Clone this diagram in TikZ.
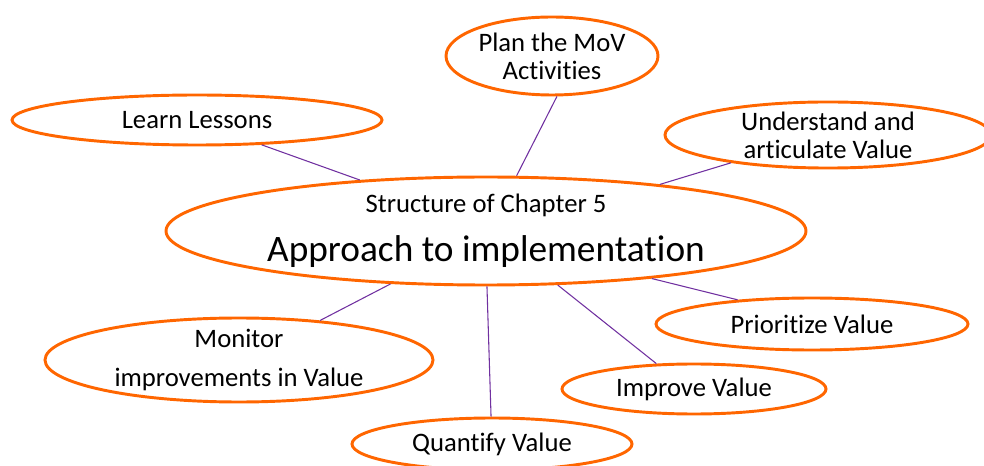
\documentclass[tikz,border=0pt]{standalone}
\usepackage{fontspec}
\setmainfont{Carlito}[Ligatures=NoCommon]
\usetikzlibrary{shapes.geometric}
\definecolor{mapOrange}{RGB}{255,102,0}
\definecolor{mapPurple}{RGB}{112,48,160}

\begin{document}
\begin{tikzpicture}[x=0.75pt,y=0.75pt,yscale=-1,xscale=1,
  topic/.style={ellipse, draw=mapOrange, line width=2.2pt, fill=white, inner sep=0pt, align=center, font=\fontsize{20}{21}\selectfont},
  link/.style={draw=mapPurple, line width=0.8pt}]
%set diagram to the size of the slide
\useasboundingbox (0,0) rectangle (984,466);
\clip (0,0) rectangle (984,466);

%Shape: Ellipse (centre)
\node [topic, minimum width=480pt, minimum height=81pt, inner ysep=-9pt] (core) at (486,231) {Structure of Chapter 5\\[13pt]{\fontsize{28}{34}\selectfont Approach to implementation}};
%Shape: Ellipse
\node [topic, minimum width=159pt, minimum height=58.5pt] (plan) at (552,56) {Plan the MoV\\Activities};
%Shape: Ellipse
\node [topic, minimum width=277.5pt, minimum height=37.5pt] (learn) at (197,120) {Learn Lessons};
%Shape: Ellipse
\node [topic, minimum width=244.5pt, minimum height=48pt] (understand) at (828,135) {Understand and\\articulate Value};
%Shape: Ellipse
\node [topic, minimum width=234pt, minimum height=39pt] (prioritize) at (812,324) {Prioritize Value};
%Shape: Ellipse
\node [topic, minimum width=198pt, minimum height=37.5pt] (improve) at (694,389) {Improve Value};
%Shape: Ellipse
\node [topic, minimum width=210pt, minimum height=39pt] (quantify) at (492,444) {Quantify Value};
%Shape: Ellipse
\node [topic, minimum width=291pt, minimum height=63pt, inner ysep=-4pt] (monitor) at (239,360) {Monitor\\[8pt]improvements in Value};

%Straight Lines
\draw [link] (core.158.7) -- (learn.-21.5);
\draw [link] (core.61.8) -- (plan.-83);
\draw [link] (core.15.7) -- (understand.-164.2);
\draw [link] (core.-16.8) -- (prioritize.162.9);
\draw [link] (core.-37.8) -- (improve.146.7);
\draw [link] (core.-89) -- (quantify.92);
\draw [link] (core.-151.6) -- (monitor.26.9);

\end{tikzpicture}
\end{document}
